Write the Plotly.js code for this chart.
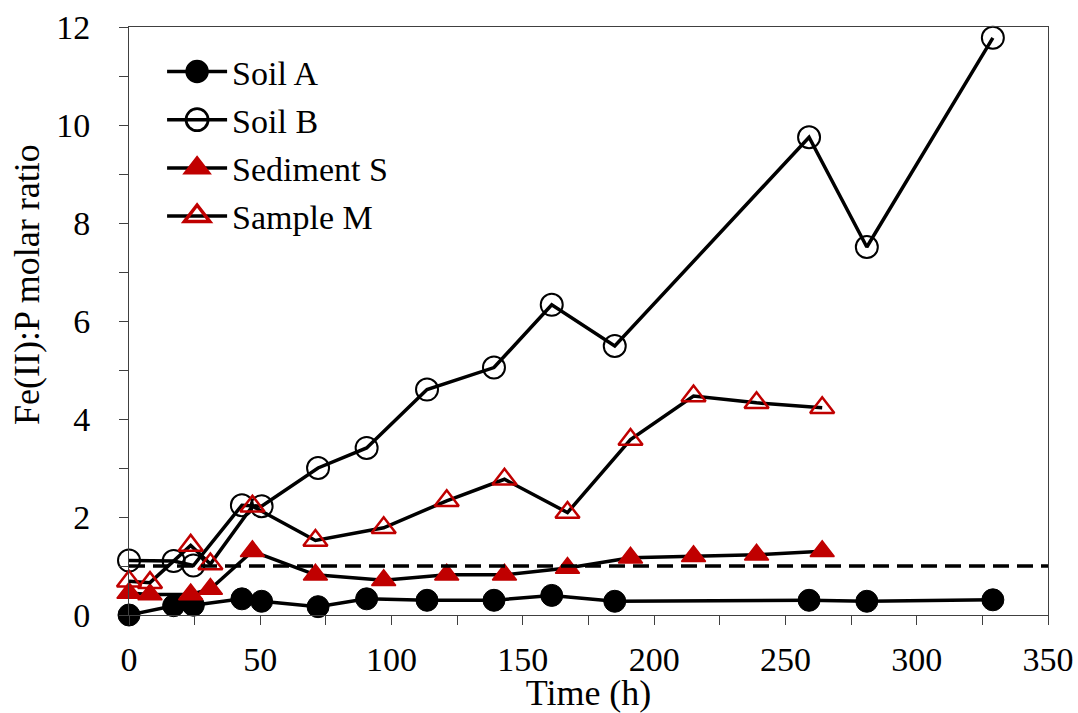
<!DOCTYPE html>
<html>
<head>
<meta charset="utf-8">
<script src="https://cdn.plot.ly/plotly-3.0.1.min.js"></script>
<style>html,body{margin:0;padding:0;background:#fff;} #chart{width:1078px;height:713px;}</style>
</head>
<body>
<div id="chart"></div>
<script>
// Data
const timeSoil = [0, 17, 24.5, 43, 50.5, 72, 90.5, 113.5, 139, 161, 185, 259, 281, 329];
const soilA    = [0, 0.19, 0.2, 0.33, 0.28, 0.17, 0.33, 0.30, 0.30, 0.40, 0.28, 0.30, 0.28, 0.31];
const soilB    = [1.11, 1.10, 1.01, 2.24, 2.22, 3.00, 3.41, 4.60, 5.05, 6.33, 5.49, 9.75, 7.51, 11.78];
const timeSed  = [0, 8, 23.5, 31, 47, 71, 97, 121, 143, 167, 191, 215, 239, 264];
const sedimentS = [0.45, 0.42, 0.42, 0.53, 1.30, 0.82, 0.71, 0.82, 0.82, 0.96, 1.17, 1.20, 1.23, 1.30];
const sampleM   = [0.69, 0.66, 1.42, 1.04, 2.22, 1.52, 1.78, 2.33, 2.77, 2.09, 3.58, 4.47, 4.33, 4.23];
const refLineX = [0, 350];
const refLineY = [1, 1];
const seriesNames = ["Soil A", "Soil B", "Sediment S", "Sample M"];
const xTitle = "Time (h)";
const yTitle = "Fe(II):P molar ratio";

const RED = "#c00000";
const FAMILY = '"Liberation Serif", "Times New Roman", serif';
const lineStyle = {color: "#000", width: 3.5};

const traces = [
  {x: timeSoil, y: soilA, name: seriesNames[0], legendgroup: "a", mode: "lines+markers",
   line: lineStyle, marker: {symbol: "circle", size: 22, color: "#000", line: {color: "#000", width: 1}}, cliponaxis: false},
  {x: timeSoil, y: soilB, name: seriesNames[1], legendgroup: "b", mode: "lines+markers",
   line: lineStyle, marker: {symbol: "circle-open", size: 22, color: "#000", line: {color: "#000", width: 2}}, cliponaxis: false},
  {x: timeSed, y: sedimentS, name: seriesNames[2], legendgroup: "c", mode: "lines+markers",
   line: lineStyle, marker: {symbol: "triangle-up", size: 21, color: RED, line: {color: RED, width: 1.5}}, cliponaxis: false},
  {x: timeSed, y: sampleM, name: seriesNames[3], legendgroup: "d", mode: "lines+markers",
   line: lineStyle, marker: {symbol: "triangle-up-open", size: 21, color: RED, line: {color: RED, width: 2.5}}, cliponaxis: false},
  {x: refLineX, y: refLineY, mode: "lines", showlegend: false, hoverinfo: "skip",
   line: {color: "#000", width: 3.5, dash: "16px,8px"}}
];

const tickFont = {family: FAMILY, size: 34, color: "#000"};

const layout = {
  width: 1078, height: 713,
  margin: {l: 129, r: 30, t: 27, b: 98},
  paper_bgcolor: "#fff", plot_bgcolor: "#fff",
  font: {family: FAMILY, size: 34, color: "#000"},
  showlegend: true,
  legend: {
    x: 0.036, y: 0.973, xanchor: "left", yanchor: "top",
    font: {family: FAMILY, size: 34, color: "#000"},
    bgcolor: "rgba(0,0,0,0)", tracegroupgap: 1, itemwidth: 60, traceorder: "grouped"
  },
  xaxis: {
    range: [0, 350], dtick: 50, tick0: 0,
    showgrid: false, zeroline: false,
    showline: true, linecolor: "#404040", linewidth: 1, mirror: true,
    ticks: "outside", ticklen: 9, tickcolor: "#404040",
    minor: {dtick: 25, ticks: "outside", ticklen: 9, tickcolor: "#404040", showgrid: false},
    tickfont: tickFont, ticklabelstandoff: 5,
    title: {text: xTitle, font: {family: FAMILY, size: 36, color: "#000"}, standoff: 2}
  },
  yaxis: {
    range: [0, 12], dtick: 2, tick0: 0,
    showgrid: false, zeroline: false,
    showline: true, linecolor: "#404040", linewidth: 1, mirror: true,
    ticks: "outside", ticklen: 9, tickcolor: "#404040",
    minor: {dtick: 1, ticks: "outside", ticklen: 9, tickcolor: "#404040", showgrid: false},
    tickfont: tickFont, ticklabelstandoff: 22
  },
  annotations: [{
    text: yTitle, textangle: -90, showarrow: false,
    xref: "paper", yref: "paper", x: -0.111, y: 0.563,
    xanchor: "center", yanchor: "middle",
    font: {family: FAMILY, size: 36, color: "#000"}
  }]
};

Plotly.newPlot("chart", traces, layout, {displayModeBar: false, staticPlot: true}).then(function (gd) {
  // enlarge legend symbols to match the plotted marker size
  gd.querySelectorAll(".legend .legendpoints path.scatterpts").forEach(function (p) {
    const t = p.getAttribute("transform") || "";
    p.setAttribute("transform", t + " scale(1.38)");
  });
});
</script>
</body>
</html>
